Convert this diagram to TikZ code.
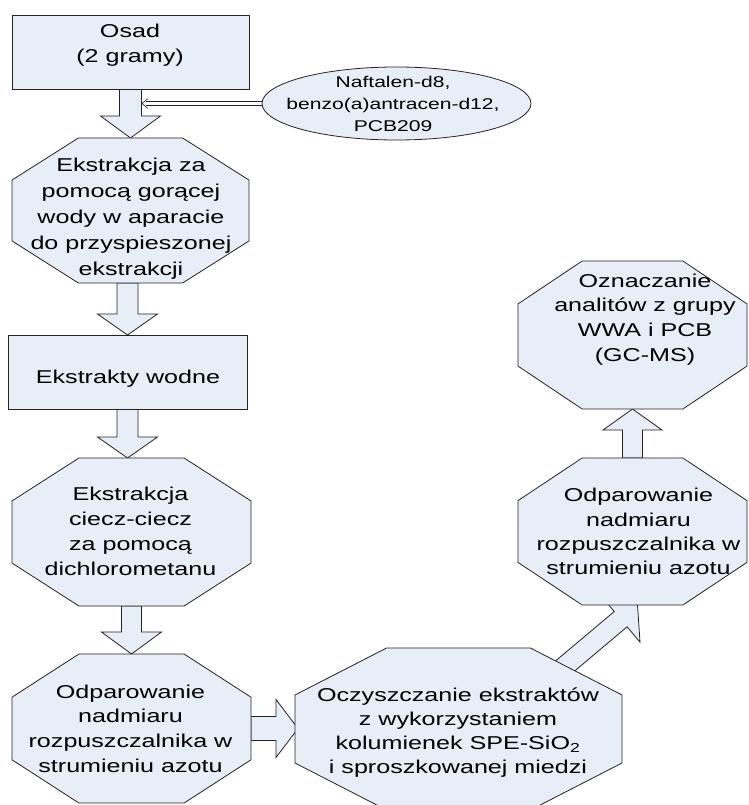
\documentclass[tikz,border=0pt]{standalone}
\usepackage{fontspec}
\setmainfont[FakeStretch=1.35]{Liberation Sans}
\usetikzlibrary{calc,arrows.meta,shapes.geometric}
\pgfdeclarelayer{back}
\pgfdeclarelayer{bg}
\pgfsetlayers{back,bg,main}
\definecolor{boxfill}{RGB}{232,238,247}
\definecolor{edgecol}{RGB}{35,35,35}
\tikzset{
  shp/.style={fill=boxfill, draw=edgecol, line width=0.8pt, line join=miter},
  rectnode/.style={shp, rectangle, inner sep=0pt, outer sep=0pt},
  octnode/.style={rectangle, inner sep=0pt, outer sep=0pt, draw=none},
  txt/.style={anchor=north, inner sep=0pt, outer sep=0pt, align=center, text=black,
    font=\fontsize{18.6}{#1}\selectfont},
  txt/.default=25,
  thinline/.style={draw=edgecol, line width=0.6pt},
}
\newcommand\octdraw[1]{%
  \draw[shp] ($(#1.north west)!0.28!(#1.north east)$) -- ($(#1.north east)!0.28!(#1.north west)$)
    -- ($(#1.north east)!0.29!(#1.south east)$) -- ($(#1.south east)!0.29!(#1.north east)$)
    -- ($(#1.south east)!0.28!(#1.south west)$) -- ($(#1.south west)!0.28!(#1.south east)$)
    -- ($(#1.south west)!0.29!(#1.north west)$) -- ($(#1.north west)!0.29!(#1.south west)$) -- cycle;}
\newcommand\blockarr[5]{%
  \coordinate (ba-s) at (#1);
  \coordinate (ba-t) at (#2);
  \coordinate (ba-h) at ($(ba-t)!#5!(ba-s)$);
  \filldraw[shp] ($(ba-s)!#3!90:(ba-t)$) -- ($(ba-h)!#3!90:(ba-t)$) -- ($(ba-h)!#4!90:(ba-t)$)
    -- (ba-t) -- ($(ba-h)!#4!-90:(ba-t)$) -- ($(ba-h)!#3!-90:(ba-t)$) -- ($(ba-s)!#3!-90:(ba-t)$) -- cycle;}
\begin{document}
\begin{tikzpicture}[x=1pt, y=-1pt]
\useasboundingbox (0,0) rectangle (748,805);
\clip (0,0) rectangle (748,805);
\begin{pgfonlayer}{back}
\fill[white] (0,0) rectangle (748,805);
\end{pgfonlayer}

% shapes
\node[rectnode, minimum width=237pt, minimum height=74pt] (n1) at (130.5,52) {};
\node[shp, ellipse, inner sep=0pt, minimum width=269pt, minimum height=73pt] (ell) at (396.5,103.5) {};
\node[octnode, minimum width=237pt, minimum height=145pt] (n2) at (130.5,210.5) {};
\node[rectnode, minimum width=239pt, minimum height=74pt] (n3) at (127.5,372) {};
\node[octnode, minimum width=239pt, minimum height=148pt] (n4) at (131.5,532) {};
\node[octnode, minimum width=239pt, minimum height=149pt] (n5) at (131.5,728.5) {};
\node[octnode, minimum width=327pt, minimum height=162pt] (n6) at (458.5,729) {};
\node[octnode, minimum width=229pt, minimum height=147pt] (n7) at (632.5,531.5) {};
\node[octnode, minimum width=229pt, minimum height=148pt] (n8) at (632.5,335) {};
\octdraw{n2}\octdraw{n4}\octdraw{n5}\octdraw{n6}\octdraw{n7}\octdraw{n8}

% texts
\node[txt] (t1) at (130,21) {\rule{0pt}{17pt}Osad\\(2 gramy)};
\node[txt, font=\fontsize{15.6}{22}\selectfont] (te) at (393,73.3) {\rule{0pt}{14pt}Naftalen-d8,\\benzo(a)antracen-d12,\\PCB209};
\node[txt=26] (t2) at (131,154) {\rule{0pt}{17pt}Ekstrakcja za\\pomocą gorącej\\wody w aparacie\\do przyspieszonej\\ekstrakcji};
\node[txt] (t3) at (128,366) {\rule{0pt}{17pt}Ekstrakty wodne};
\node[txt=25.3] (t4) at (130.5,483) {\rule{0pt}{17pt}Ekstrakcja\\ciecz-ciecz\\za pomocą\\dichlorometanu};
\node[txt=24.7] (t5) at (130.5,681) {\rule{0pt}{17pt}Odparowanie\\nadmiaru\\rozpuszczalnika w\\strumieniu azotu};
\node[txt=24] (t6) at (458,684) {\rule{0pt}{17pt}Oczyszczanie ekstraktów\\z wykorzystaniem\\kolumienek SPE-SiO\textsubscript{2}\\i sproszkowanej miedzi};
\node[txt=24.4] (t7) at (638.5,484.7) {\rule{0pt}{17pt}Odparowanie\\nadmiaru\\rozpuszczalnika w\\strumieniu azotu};
\node[txt=24.7] (t8) at (645,270) {\rule{0pt}{17pt}Oznaczanie\\analitów z grupy\\WWA i PCB\\(GC-MS)};

% block arrows (under the shapes)
\begin{pgfonlayer}{bg}
\blockarr{n1.south}{n2.north}{11pt}{30pt}{22pt}
\coordinate (a2s) at (n3.north |- n2.south);
\blockarr{a2s}{n3.north}{10.5pt}{30pt}{21pt}
\coordinate (a3t) at (n3.south |- n4.north);
\blockarr{n3.south}{a3t}{10.5pt}{30pt}{21pt}
\blockarr{n4.south}{n5.north}{10pt}{30pt}{22pt}
\coordinate (a5t) at ($(n6.west |- n5.east)+(3,0)$);
\blockarr{n5.east}{a5t}{12pt}{29pt}{22pt}
\coordinate (a6t) at (n7.north |- n8.south);
\blockarr{n7.north}{a6t}{10pt}{29.5pt}{21pt}
\coordinate (n6tr) at ($(n6.north east)!0.28!(n6.north west)$);
\coordinate (n6rt) at ($(n6.north east)!0.29!(n6.south east)$);
\coordinate (a7e) at ($(n6tr)!0.38!(n6rt)$);
\coordinate (a7t) at ($(n7.south)+(5,0)$);
\coordinate (a7s) at ($(a7e)!-10pt!(a7t)$);
\blockarr{a7s}{a7t}{10pt}{30pt}{22pt}
\end{pgfonlayer}

% double connector from the ellipse
\coordinate (dtip) at ($(ell.west -| n1.south)+(11.5,0)$);
\draw[thinline] ($(ell.west)+(0,-1.7)$) -- ($(dtip)+(4,-1.7)$);
\draw[thinline] ($(ell.west)+(0,1.7)$) -- ($(dtip)+(4,1.7)$);
\draw[thinline, line join=miter] ($(dtip)+(6,-5)$) -- (dtip) -- ($(dtip)+(6,5)$);
\end{tikzpicture}
\end{document}
